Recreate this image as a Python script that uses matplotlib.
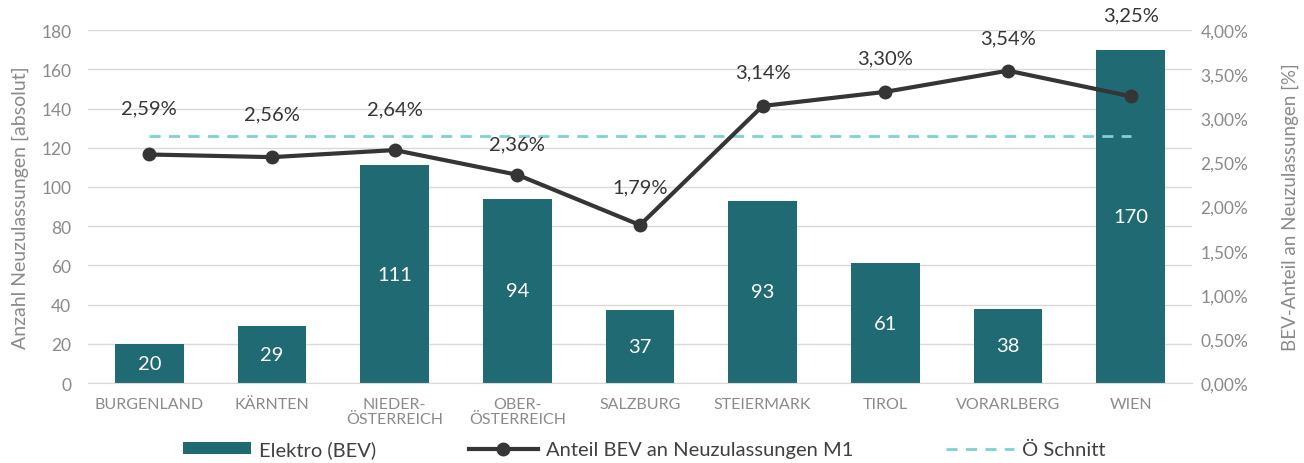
import numpy as np
import matplotlib.pyplot as plt
from matplotlib.ticker import FuncFormatter

plt.rcParams['font.family'] = ['Lato', 'DejaVu Sans']

# Daten
bundeslaender = ['BURGENLAND', 'KÄRNTEN', 'NIEDER-\nÖSTERREICH', 'OBER-\nÖSTERREICH', 'SALZBURG',
                 'STEIERMARK', 'TIROL', 'VORARLBERG', 'WIEN']
elektro_bev = [20, 29, 111, 94, 37, 93, 61, 38, 170]
anteil_bev = [2.59, 2.56, 2.64, 2.36, 1.79, 3.14, 3.30, 3.54, 3.25]
oe_schnitt = 2.80

# Abstand der Prozent-Labels ueber den Punkten (Pixel)
label_offset = [38, 35, 33, 22, 30, 26, 25, 24, 73]

col_bar = '#1f6a73'
col_line = '#353535'
col_avg = '#7dd3cf'
col_tick = '#8a8a8a'

fig = plt.figure(figsize=(13.04, 4.64), dpi=100)
ax = fig.add_axes([0.0675, 0.1724, 0.8466, 0.7606])
ax2 = ax.twinx()

x = np.arange(len(bundeslaender))
bars = ax.bar(x, elektro_bev, width=0.56, color=col_bar, label='Elektro (BEV)', zorder=2)
for xi, v in zip(x, elektro_bev):
    ax.text(xi, v / 2, str(v), ha='center', va='center', color='white', fontsize=14.5, zorder=3)

ax.set_ylim(0, 180)
ax.set_yticks(range(0, 181, 20))
ax.set_xlim(-0.5, len(bundeslaender) - 0.5)
ax.set_xticks(x)
ax.set_xticklabels(bundeslaender, fontsize=11.5, color=col_tick, linespacing=1.1)
ax.grid(axis='y', color='#d9d9d9', linewidth=1, zorder=0)
ax.set_axisbelow(True)
ax.set_ylabel('Anzahl Neuzulassungen [absolut]', fontsize=14, color=col_tick, labelpad=9)
ax.tick_params(axis='y', labelsize=12.5, colors=col_tick, length=0, pad=12)
ax.tick_params(axis='x', length=0, pad=10)
for s in ['top', 'right', 'left']:
    ax.spines[s].set_visible(False)
    ax2.spines[s].set_visible(False)
ax.spines['bottom'].set_color('#d9d9d9')
ax2.spines['bottom'].set_visible(False)

ax2.plot(x, anteil_bev, color=col_line, linewidth=3, marker='o', markersize=9,
         label='Anteil BEV an Neuzulassungen M1', zorder=4)
ax2.plot([x[0], x[-1]], [oe_schnitt, oe_schnitt], color=col_avg, linestyle=(0, (4, 3)),
         linewidth=2, label='Ö Schnitt', zorder=3)
for xi, v, off in zip(x, anteil_bev, label_offset):
    ax2.annotate(f'{v:.2f}%'.replace('.', ','), (xi, v), xytext=(0, off), textcoords='offset pixels',
                 ha='center', va='bottom', fontsize=14.5, color=col_line)
ax2.set_ylim(0, 4)
ax2.set_yticks(np.arange(0, 4.01, 0.5))
ax2.yaxis.set_major_formatter(FuncFormatter(lambda v, p: f'{v:.2f}%'.replace('.', ',')))
ax2.tick_params(axis='y', labelsize=12.5, colors=col_tick, length=0, pad=6)
ax2.set_ylabel('BEV-Anteil an Neuzulassungen [%]', fontsize=13.5, color=col_tick, labelpad=24)

h1, l1 = ax.get_legend_handles_labels()
h2, l2 = ax2.get_legend_handles_labels()
fig.legend(h1 + h2, l1 + l2, loc='center', bbox_to_anchor=(0.494, 0.03), ncol=3, frameon=False,
           fontsize=14.5, labelcolor='#404040', handlelength=3.4, handletextpad=0.4,
           columnspacing=4.6, handleheight=0.5)

fig.savefig('out.png', dpi=100)
